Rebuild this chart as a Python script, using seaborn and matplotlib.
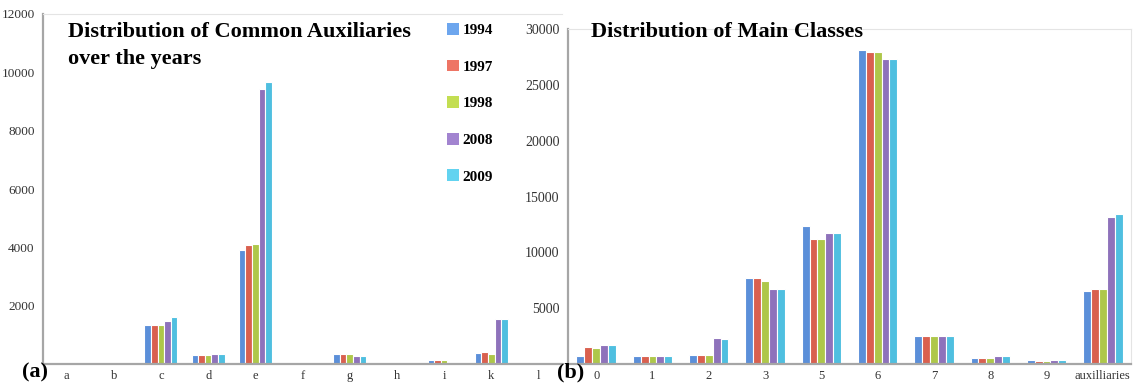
import matplotlib
matplotlib.use('Agg')
import matplotlib.pyplot as plt
from matplotlib.patches import Patch
import seaborn as sns
import pandas as pd

# ---- data ----
years = ['1994', '1997', '1998', '2008', '2009']
colors = ['#5B8FD9', '#D9604F', '#AEC74A', '#8E72BB', '#4FBFE0']
legend_colors = ['#6DA6EE', '#EE7565', '#C3DE52', '#A284D0', '#62D3F0']

aux_cats = ['a', 'b', 'c', 'd', 'e', 'f', 'g', 'h', 'i', 'k', 'l']
aux_1994 = [0, 0, 1340, 310, 3920, 0, 340, 0, 150, 390, 0]
aux_1997 = [0, 0, 1340, 320, 4080, 0, 340, 0, 130, 400, 0]
aux_1998 = [0, 0, 1340, 320, 4110, 0, 330, 0, 130, 360, 0]
aux_2008 = [0, 0, 1480, 340, 9430, 0, 270, 0, 0, 1540, 0]
aux_2009 = [0, 0, 1610, 340, 9670, 0, 260, 0, 0, 1540, 0]

main_cats = ['0', '1', '2', '3', '5', '6', '7', '8', '9', 'auxilliaries']
main_1994 = [720, 720, 830, 7700, 12350, 28100, 2530, 510, 360, 6560]
main_1997 = [1500, 720, 830, 7700, 11180, 27980, 2480, 510, 270, 6710]
main_1998 = [1470, 720, 830, 7430, 11180, 27900, 2480, 510, 270, 6710]
main_2008 = [1700, 720, 2330, 6680, 11750, 27280, 2480, 710, 330, 13130]
main_2009 = [1700, 720, 2260, 6680, 11750, 27280, 2480, 750, 330, 13450]


def long_table(cats, series):
    rows = []
    for yr, vals in zip(years, series):
        for c, v in zip(cats, vals):
            rows.append({'cat': c, 'year': yr, 'value': v})
    return pd.DataFrame(rows)


aux_df = long_table(aux_cats, [aux_1994, aux_1997, aux_1998, aux_2008, aux_2009])
main_df = long_table(main_cats, [main_1994, main_1997, main_1998, main_2008, main_2009])

sns.set_style('white')
plt.rcParams['font.family'] = ['Liberation Serif', 'DejaVu Serif']
plt.rcParams['text.color'] = 'black'

W, H = 1133, 391
fig = plt.figure(figsize=(W / 100, H / 100), dpi=100)


def style_axis(ax, ticks):
    ax.set_yticks(ticks)
    ax.set_yticklabels([str(t) for t in ticks])
    ax.tick_params(axis='y', length=0, pad=6, labelsize=9.5, labelcolor='#333333')
    ax.tick_params(axis='x', length=0, pad=4, labelsize=9, labelcolor='#333333')
    ax.set_xlabel('')
    ax.set_ylabel('')
    for s in ['left', 'bottom']:
        ax.spines[s].set_color('#a6a6a6')
        ax.spines[s].set_linewidth(1.6)
    for s in ['top', 'right']:
        ax.spines[s].set_color('#e4e4e4')
        ax.spines[s].set_linewidth(0.8)


# left panel: common auxiliaries
ax1 = fig.add_axes([43 / W, 27 / H, (562 - 43) / W, (364 - 14) / H])
sns.barplot(data=aux_df, x='cat', y='value', hue='year', palette=colors, width=0.7,
            saturation=1, edgecolor='white', linewidth=0.8, gap=0, legend=False, ax=ax1)
ax1.set_ylim(0, 12000)
ax1.set_xlim(-0.5, 10.5)
style_axis(ax1, [2000, 4000, 6000, 8000, 10000, 12000])
ax1.spines['right'].set_visible(False)

# right panel: main classes
ax2 = fig.add_axes([568 / W, 27 / H, (1131 - 568) / W, (364 - 29) / H])
sns.barplot(data=main_df, x='cat', y='value', hue='year', palette=colors, width=0.7,
            saturation=1, edgecolor='white', linewidth=0.8, gap=0, legend=False, ax=ax2)
ax2.set_ylim(0, 30000)
ax2.set_xlim(-0.5, 9.5)
style_axis(ax2, [5000, 10000, 15000, 20000, 25000, 30000])
ax2.tick_params(axis='y', labelsize=10)

# titles
fig.text(68 / W, 1 - 37 / H, 'Distribution of Common Auxiliaries', fontsize=16,
         fontweight='bold', va='baseline', ha='left')
fig.text(68 / W, 1 - 64 / H, 'over the years', fontsize=16,
         fontweight='bold', va='baseline', ha='left')
fig.text(591 / W, 1 - 37 / H, 'Distribution of Main Classes', fontsize=16,
         fontweight='bold', va='baseline', ha='left')

# legend
handles = [Patch(facecolor=c, edgecolor='none', label=y) for c, y in zip(legend_colors, years)]
leg = fig.legend(handles=handles, loc='upper left', bbox_to_anchor=(447 / W, 1 - 23 / H),
                 frameon=False, prop={'weight': 'bold', 'size': 11}, labelspacing=1.47,
                 handlelength=0.8, handleheight=0.8, handletextpad=0.2, borderpad=0,
                 borderaxespad=0)

# panel labels
fig.text(22 / W, 1 - 372 / H, '(a)', fontsize=16, fontweight='bold', va='center', ha='left')
fig.text(557 / W, 1 - 372 / H, '(b)', fontsize=16, fontweight='bold', va='center', ha='left')

fig.savefig('out.png', dpi=100)
